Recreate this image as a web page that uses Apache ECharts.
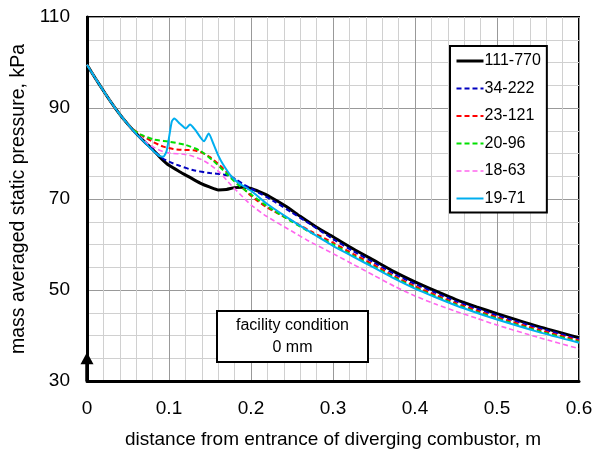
<!DOCTYPE html>
<html>
<head>
<meta charset="utf-8">
<script src="https://cdn.jsdelivr.net/npm/echarts@6/dist/echarts.min.js"></script>
<style>
  html, body { margin: 0; padding: 0; background: #fff; }
  #chart { width: 599px; height: 454px; }
</style>
</head>
<body>
<div id="chart"></div>
<script>
// Static pressure along the diverging combustor, [distance m, pressure kPa]
const s111_770 = [[0,99.5],[0.01,96.6],[0.02,93.8],[0.03,91.1],[0.04,88.6],[0.05,86.4],[0.06,84.4],[0.07,82.6],[0.08,80.9],[0.09,79.0],[0.1,77.4],[0.113,76.0],[0.125,74.8],[0.138,73.5],[0.15,72.6],[0.16,72.0],[0.17,72.1],[0.18,72.5],[0.19,72.6],[0.2,72.3],[0.21,71.6],[0.223,70.5],[0.2435,68.3],[0.26,66.2],[0.28,63.8],[0.3,61.7],[0.325,59.0],[0.35,56.5],[0.375,54.0],[0.4,51.8],[0.425,49.8],[0.45,47.9],[0.475,46.3],[0.5,44.8],[0.55,42.0],[0.6,39.5]];
const s34_222 = [[0,99.5],[0.01,96.6],[0.02,93.8],[0.03,91.1],[0.04,88.6],[0.05,86.4],[0.06,84.4],[0.07,82.6],[0.08,80.9],[0.09,79.2],[0.1,78.2],[0.113,77.3],[0.13,76.3],[0.15,75.7],[0.166,75.4],[0.175,75.0],[0.1826,74.2],[0.19,73.3],[0.203,72.0],[0.227,69.6],[0.25,67.0],[0.272,64.5],[0.3,61.2],[0.325,58.5],[0.35,56.0],[0.375,53.5],[0.4,51.3],[0.425,49.4],[0.45,47.5],[0.475,45.9],[0.5,44.4],[0.55,41.7],[0.6,39.2]];
const s23_121 = [[0,99.5],[0.01,96.6],[0.02,93.8],[0.03,91.1],[0.04,88.6],[0.05,86.4],[0.06,84.8],[0.07,83.6],[0.081,82.5],[0.093,81.5],[0.105,81.0],[0.115,80.8],[0.13,80.7],[0.14,80.2],[0.15,79.2],[0.162,77.4],[0.174,75.3],[0.187,73.0],[0.2,70.7],[0.22,68.1],[0.25,65.2],[0.275,62.7],[0.3,60.4],[0.325,57.9],[0.35,55.5],[0.375,53.0],[0.4,50.8],[0.425,48.9],[0.45,47.1],[0.475,45.5],[0.5,44.0],[0.55,41.3],[0.6,38.9]];
const s20_96 = [[0,99.5],[0.01,96.6],[0.02,93.8],[0.03,91.1],[0.04,88.6],[0.05,86.4],[0.0565,85.2],[0.065,84.2],[0.081,83.1],[0.1,82.6],[0.12,81.9],[0.138,80.6],[0.154,78.4],[0.17,75.6],[0.185,73.0],[0.2,71.0],[0.219,68.5],[0.25,65.0],[0.272,62.7],[0.3,60.0],[0.325,57.5],[0.35,55.1],[0.375,52.7],[0.4,50.5],[0.425,48.6],[0.45,46.8],[0.475,45.2],[0.5,43.7],[0.55,41.0],[0.6,38.6]];
const s18_63 = [[0,99.5],[0.01,96.6],[0.02,93.8],[0.03,91.1],[0.04,88.6],[0.05,86.4],[0.06,84.3],[0.07,82.7],[0.081,81.4],[0.093,80.4],[0.105,80.0],[0.115,79.9],[0.125,79.6],[0.138,78.8],[0.148,77.8],[0.162,75.8],[0.175,73.2],[0.187,71.0],[0.2,68.7],[0.219,66.2],[0.25,62.9],[0.268,61.0],[0.3,58.0],[0.325,55.6],[0.35,53.2],[0.375,50.8],[0.4,48.7],[0.425,46.9],[0.45,45.3],[0.475,43.8],[0.5,42.3],[0.55,39.6],[0.6,37.1]];
const s19_71 = [[0,99.5],[0.01,96.6],[0.02,93.8],[0.03,91.1],[0.04,88.6],[0.05,86.4],[0.06,84.3],[0.07,82.5],[0.08,80.7],[0.088,79.5],[0.093,79.3],[0.097,80.5],[0.1,83.5],[0.1035,87.1],[0.1065,87.7],[0.113,86.6],[0.1207,85.5],[0.1256,86.4],[0.132,85.2],[0.1427,82.7],[0.1484,84.4],[0.154,82.2],[0.16,79.6],[0.166,77.6],[0.176,75.0],[0.185,73.5],[0.2,71.8],[0.219,69.0],[0.2435,66.0],[0.268,63.2],[0.3,59.7],[0.325,57.3],[0.35,54.9],[0.375,52.5],[0.4,50.3],[0.425,48.4],[0.45,46.6],[0.475,45.0],[0.5,43.5],[0.55,40.8],[0.6,38.4]];

const seriesNames = ['111-770', '34-222', '23-121', '20-96', '18-63', '19-71'];
const seriesData = [s111_770, s34_222, s23_121, s20_96, s18_63, s19_71];
const xTicks = [0, 0.1, 0.2, 0.3, 0.4, 0.5, 0.6];
const yTicks = [30, 50, 70, 90, 110];

const FONT = 'Liberation Sans, Arial, sans-serif';
const styles = [
  { color: '#000000', width: 3, type: 'solid' },
  { color: '#0000c0', width: 2, type: [5, 3] },
  { color: '#ff0000', width: 2, type: [5, 3] },
  { color: '#00e000', width: 2, type: [5, 3] },
  { color: '#ff66ee', width: 1.6, type: [5, 3] },
  { color: '#00aeef', width: 2, type: 'solid' }
];

const chart = echarts.init(document.getElementById('chart'), null, { renderer: 'canvas' });

const series = seriesNames.map((name, i) => ({
  name: name,
  type: 'line',
  data: seriesData[i],
  showSymbol: false,
  symbol: 'none',
  smooth: 0.2,
  lineStyle: styles[i],
  itemStyle: { color: styles[i].color },
  emphasis: { disabled: true },
  z: 3 + i
}));

// upright arrow marking the combustor entrance
series[0].markLine = {
  silent: true,
  symbol: ['none', 'triangle'],
  symbolSize: [13, 12],
  label: { show: false },
  lineStyle: { color: '#000', width: 3.5, type: 'solid' },
  data: [[{ coord: [0, 30] }, { coord: [0, 35.0] }]]
};

const legendItems = seriesNames.map((name, i) => ({
  name: name,
  lineStyle: { color: styles[i].color, width: styles[i].width, type: styles[i].type }
}));

chart.setOption({
  animation: false,
  backgroundColor: '#fff',
  grid: {
    left: 87, right: 20, top: 17, bottom: 73,
    show: true, borderColor: '#000', borderWidth: 2, backgroundColor: 'transparent'
  },
  legend: {
    orient: 'vertical',
    left: 450, top: 46,
    data: legendItems,
    itemWidth: 27, itemHeight: 12, itemGap: 11.5,
    padding: [7, 6, 6, 5],
    borderColor: '#000', borderWidth: 2, borderRadius: 0,
    backgroundColor: '#fff',
    itemStyle: { color: 'rgba(0,0,0,0)', borderColor: 'rgba(0,0,0,0)', borderWidth: 0 },
    textStyle: { fontFamily: FONT, fontSize: 16, color: '#000', padding: [0, 0, 0, -4] },
    selectedMode: false
  },
  xAxis: {
    type: 'value', min: 0, max: 0.6, interval: 0.1,
    name: 'distance from entrance of diverging combustor, m',
    nameLocation: 'middle', nameGap: 49,
    nameTextStyle: { fontFamily: FONT, fontSize: 19, color: '#000' },
    axisLine: { show: true, lineStyle: { color: '#000', width: 3 } },
    axisTick: { show: false },
    axisLabel: {
      fontFamily: FONT, fontSize: 19, color: '#000', margin: 18,
      formatter: v => { const t = xTicks.find(k => Math.abs(k - v) < 1e-9); return t === undefined ? '' : String(t); }
    },
    splitLine: { show: true, lineStyle: { color: '#999999', width: 1 } },
    minorTick: { show: true, splitNumber: 5, length: 0 },
    minorSplitLine: { show: true, lineStyle: { color: '#d0d0d0', width: 1 } }
  },
  yAxis: {
    type: 'value', min: 30, max: 110, interval: 20,
    name: 'mass averaged static pressure, kPa',
    nameLocation: 'middle', nameGap: 55,
    nameTextStyle: { fontFamily: FONT, fontSize: 19.5, color: '#000' },
    axisLine: { show: true, lineStyle: { color: '#000', width: 3 } },
    axisTick: { show: false },
    axisLabel: {
      fontFamily: FONT, fontSize: 19, color: '#000', margin: 17,
      formatter: v => { const t = yTicks.find(k => Math.abs(k - v) < 1e-9); return t === undefined ? '' : String(t); }
    },
    splitLine: { show: true, lineStyle: { color: '#999999', width: 1 } },
    minorTick: { show: true, splitNumber: 4, length: 0 },
    minorSplitLine: { show: true, lineStyle: { color: '#d0d0d0', width: 1 } }
  },
  graphic: [
    {
      type: 'group', left: 216, top: 310, z: 100,
      children: [
        { type: 'rect', z: 100, shape: { x: 0, y: 0, width: 151, height: 51 },
          style: { fill: '#fff', stroke: '#000', lineWidth: 2 } },
        { type: 'text', z: 101, x: 75.5, y: 25.5,
          style: { text: 'facility condition\n0 mm', fill: '#000', font: '16px ' + FONT,
                   align: 'center', verticalAlign: 'middle', lineHeight: 22 } }
      ]
    }
  ],
  series: series
});
</script>
</body>
</html>
